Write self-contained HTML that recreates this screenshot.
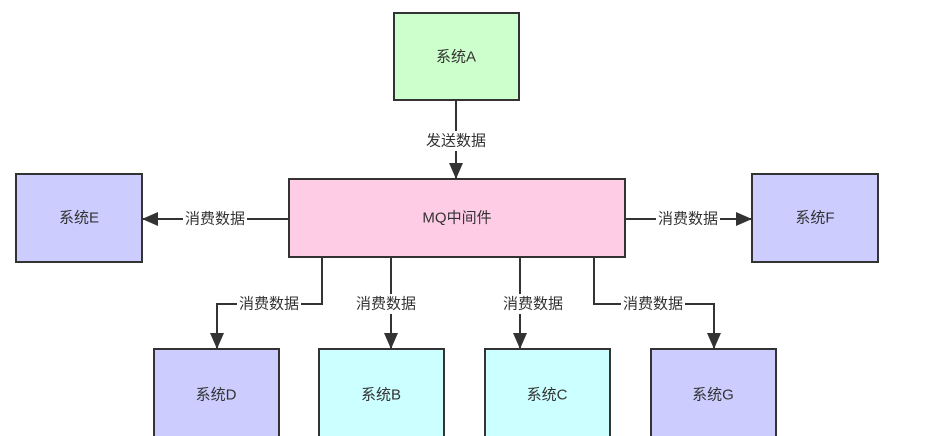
<!DOCTYPE html><html><head><meta charset="utf-8"><style>body{margin:0;background:#fff}svg{display:block}text{font-family:"Liberation Sans","Noto Sans CJK SC",sans-serif;font-size:15px;fill:#333;text-anchor:middle;dominant-baseline:central}</style></head><body>
<svg width="943" height="436" viewBox="0 0 943 436">
<defs><marker id="a" markerWidth="16" markerHeight="14" refX="15" refY="7" orient="auto" markerUnits="userSpaceOnUse"><path d="M0,0 L16,7 L0,14 Z" fill="#333"/></marker></defs>
<g stroke="#333" stroke-width="2">
<rect x="394" y="13" width="125" height="87" fill="#ccffcc"/>
<rect x="289" y="179" width="336" height="78" fill="#ffcce6"/>
<rect x="16" y="174" width="126" height="88" fill="#ccccff"/>
<rect x="752" y="174" width="126" height="88" fill="#ccccff"/>
<rect x="154" y="349" width="125" height="100" fill="#ccccff"/>
<rect x="319" y="349" width="125" height="100" fill="#ccffff"/>
<rect x="485" y="349" width="125" height="100" fill="#ccffff"/>
<rect x="651" y="349" width="125" height="100" fill="#ccccff"/>
<g fill="none" marker-end="url(#a)">
<path d="M456,100 V178"/>
<path d="M289,219 H143"/>
<path d="M625,219 H751"/>
<path d="M322,257 V304 H217 V348"/>
<path d="M391,257 V348"/>
<path d="M520,257 V348"/>
<path d="M594,257 V304 H714 V348"/>
</g></g>
<g fill="#fff"><rect x="424" y="131" width="64" height="20"/><rect x="183" y="209" width="64" height="20"/><rect x="656" y="209" width="64" height="20"/><rect x="237" y="294" width="64" height="20"/><rect x="354" y="294" width="64" height="20"/><rect x="501" y="294" width="64" height="20"/><rect x="621" y="294" width="64" height="20"/></g>
<text x="456" y="141">发送数据</text>
<text x="215" y="219">消费数据</text>
<text x="688" y="219">消费数据</text>
<text x="269" y="304">消费数据</text>
<text x="386" y="304">消费数据</text>
<text x="533" y="304">消费数据</text>
<text x="653" y="304">消费数据</text>
<text x="456" y="57">系统A</text>
<text x="457" y="218">MQ中间件</text>
<text x="79" y="218">系统E</text>
<text x="815" y="218">系统F</text>
<text x="216" y="395">系统D</text>
<text x="381" y="395">系统B</text>
<text x="547" y="395">系统C</text>
<text x="713" y="395">系统G</text>
</svg></body></html>
